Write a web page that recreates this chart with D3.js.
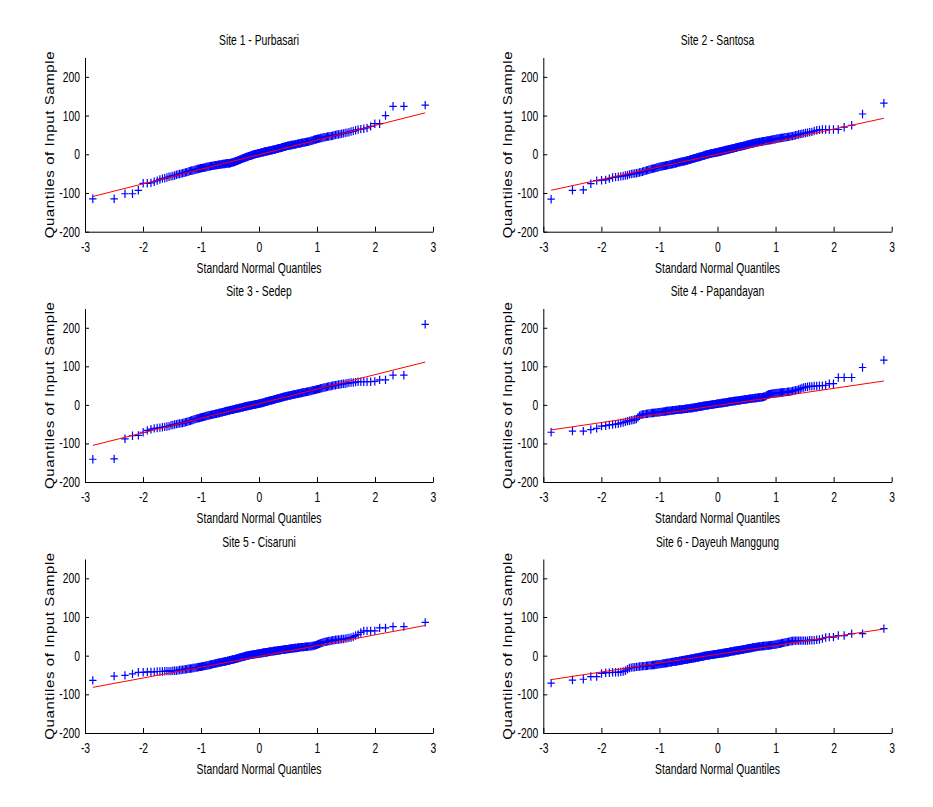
<!DOCTYPE html>
<html><head><meta charset="utf-8">
<script src="https://cdn.jsdelivr.net/npm/d3@7"></script>
<style>body{margin:0;background:#fff} text{font-family:"Liberation Sans",Arial,sans-serif;fill:#000}</style>
</head><body><svg id="c" width="933" height="807"></svg>
<script>
const titles=["Site 1 - Purbasari","Site 2 - Santosa","Site 3 - Sedep","Site 4 - Papandayan","Site 5 - Cisaruni","Site 6 - Dayeuh Manggung"];
const xTicks=[-3,-2,-1,0,1,2,3];
const yTicks=[-200,-100,0,100,200];
const xDomain=[-3,3];
const yDomain=[-200,250];
const xLabel="Standard Normal Quantiles";
const yLabel="Quantiles of Input Sample";
// sorted sample values
const site1=[-115,-115,-102,-102,-93,-75,-75,-74,-71,-68,
-65,-63,-62,-60,-58,-57,-56,-55,-53,-52,
-51,-50,-49,-48,-47,-46,-45,-44,-43,-42,
-42,-41,-40,-39,-38,-38,-37,-36,-36,-35,
-35,-34,-34,-33,-33,-32,-32,-31,-31,-30,
-30,-30,-29,-29,-28,-28,-28,-27,-27,-27,
-26,-26,-26,-25,-25,-25,-25,-24,-24,-24,
-24,-23,-23,-23,-23,-22,-22,-21,-21,-20,
-20,-19,-18,-18,-17,-16,-16,-15,-14,-14,
-13,-12,-12,-11,-10,-10,-9,-8,-8,-7,
-7,-6,-5,-5,-4,-4,-3,-3,-2,-2,
-1,-1,0,0,1,1,1,2,2,3,
3,3,4,4,5,5,5,6,6,7,
7,7,8,8,8,9,9,9,10,10,
10,11,11,12,12,12,13,13,14,14,
15,15,16,16,16,17,17,18,18,19,
19,20,20,21,21,22,22,22,23,23,
24,24,24,25,25,25,26,26,27,27,
28,28,28,29,29,30,30,30,31,31,
32,32,33,33,34,35,35,36,37,38,
38,39,40,40,41,42,42,43,44,44,
45,46,46,47,47,48,49,50,51,51,
52,53,54,55,56,57,59,60,62,64,
65,66,68,72,79,79,100,124,124,127];
const site2=[-116,-93,-92,-76,-68,-67,-66,-63,-60,-59,
-58,-57,-56,-55,-54,-52,-51,-50,-50,-49,
-48,-47,-46,-45,-44,-43,-42,-41,-40,-39,
-38,-37,-37,-36,-35,-34,-34,-33,-32,-32,
-31,-31,-30,-30,-29,-29,-28,-28,-27,-27,
-26,-26,-25,-25,-24,-24,-23,-23,-22,-22,
-21,-21,-20,-20,-19,-19,-19,-18,-18,-17,
-17,-16,-16,-15,-15,-14,-14,-13,-13,-12,
-12,-11,-11,-10,-10,-9,-9,-8,-8,-7,
-7,-6,-6,-5,-5,-4,-4,-3,-3,-2,
-2,-1,-1,0,0,0,1,1,2,2,
2,3,3,3,4,4,4,5,5,5,
6,6,6,7,7,7,8,8,9,9,
9,10,10,11,11,11,12,12,13,13,
13,14,14,15,15,15,16,16,17,17,
17,18,18,19,19,19,20,20,21,21,
21,22,22,23,23,24,24,25,25,26,
26,27,27,28,28,28,29,29,30,30,
30,31,31,32,32,32,33,33,34,34,
34,35,35,36,36,36,37,37,38,38,
39,39,40,40,41,41,42,42,43,43,
44,44,45,45,46,47,47,48,49,50,
51,52,53,54,55,56,57,58,60,62,
63,64,64,64,64,64,70,75,104,132];
const site3=[-141,-140,-88,-80,-79,-71,-66,-63,-61,-60,
-59,-58,-57,-56,-55,-53,-52,-51,-50,-49,
-48,-48,-47,-46,-45,-44,-43,-42,-41,-40,
-39,-38,-37,-36,-35,-35,-34,-33,-32,-32,
-31,-30,-30,-29,-28,-28,-27,-27,-26,-26,
-25,-25,-24,-24,-23,-23,-22,-22,-21,-21,
-20,-20,-19,-19,-18,-18,-17,-17,-16,-16,
-16,-15,-15,-14,-14,-13,-13,-13,-12,-12,
-11,-11,-10,-10,-10,-9,-9,-8,-8,-8,
-7,-7,-6,-6,-6,-5,-5,-4,-4,-4,
-3,-3,-3,-2,-2,-2,-1,-1,-1,0,
0,0,1,1,1,2,2,2,3,3,
3,4,4,5,5,5,6,6,7,7,
8,8,8,9,9,10,10,11,11,12,
12,12,13,13,14,14,15,15,16,16,
17,17,17,18,18,19,19,20,20,21,
21,21,22,22,23,23,24,24,24,25,
25,26,26,27,27,27,28,28,29,29,
29,30,30,31,31,32,32,32,33,33,
34,34,35,35,36,36,37,38,38,39,
39,40,41,41,42,43,43,44,45,45,
46,47,48,48,49,50,51,51,52,53,
53,54,55,55,56,57,58,58,59,60,
60,60,60,60,61,65,65,77,77,209];
const site4=[-71,-68,-68,-64,-61,-55,-54,-52,-51,-50,
-49,-47,-46,-44,-42,-41,-40,-39,-38,-37,
-32,-28,-26,-25,-24,-24,-23,-23,-22,-22,
-21,-21,-21,-20,-20,-20,-19,-19,-19,-18,
-18,-18,-17,-17,-17,-16,-16,-16,-16,-15,
-15,-15,-14,-14,-14,-14,-13,-13,-13,-13,
-12,-12,-12,-12,-12,-11,-11,-11,-11,-10,
-10,-10,-10,-9,-9,-9,-9,-8,-8,-8,
-8,-7,-7,-7,-6,-6,-6,-6,-5,-5,
-5,-4,-4,-4,-4,-3,-3,-3,-2,-2,
-2,-2,-1,-1,-1,-1,0,0,0,0,
1,1,1,1,2,2,2,2,3,3,
3,3,4,4,4,4,5,5,5,5,
6,6,6,6,7,7,7,7,8,8,
8,8,9,9,9,9,10,10,10,10,
11,11,11,11,12,12,12,12,13,13,
13,13,14,14,14,14,15,15,15,16,
16,16,16,17,17,17,17,18,18,18,
18,19,19,19,19,20,20,20,21,21,
22,23,25,26,27,28,28,29,29,29,
30,30,30,31,31,31,32,32,32,33,
33,33,34,34,34,35,36,37,38,39,
40,42,44,45,46,47,48,48,49,49,
50,50,51,55,55,71,71,71,97,116];
const site5=[-64,-53,-51,-47,-43,-43,-42,-42,-42,-41,
-41,-41,-40,-40,-40,-40,-39,-39,-39,-38,
-37,-37,-36,-36,-35,-35,-34,-34,-33,-33,
-32,-32,-31,-31,-30,-30,-29,-29,-28,-28,
-27,-27,-26,-26,-25,-25,-24,-24,-23,-23,
-22,-22,-21,-21,-20,-20,-19,-19,-18,-18,
-17,-17,-17,-16,-16,-15,-15,-15,-14,-14,
-13,-13,-13,-12,-12,-11,-11,-10,-10,-10,
-9,-9,-8,-8,-7,-7,-6,-6,-5,-5,
-4,-4,-3,-3,-3,-2,-2,-1,-1,0,
0,0,1,1,1,2,2,2,2,3,
3,3,4,4,4,4,5,5,5,5,
6,6,6,6,7,7,7,8,8,8,
8,9,9,9,9,10,10,10,10,11,
11,11,11,12,12,12,12,13,13,13,
13,14,14,14,14,15,15,15,15,16,
16,16,16,17,17,17,17,18,18,18,
18,19,19,19,19,20,20,20,20,21,
21,21,21,22,22,22,22,22,23,23,
23,23,24,24,24,24,25,25,26,26,
27,28,29,30,31,32,33,34,35,36,
36,37,38,38,39,40,40,41,41,42,
42,43,43,44,45,46,47,49,52,55,
60,64,64,64,64,72,72,75,75,86];
const site6=[-71,-63,-61,-54,-54,-46,-44,-44,-43,-43,
-43,-42,-41,-39,-35,-32,-31,-30,-30,-29,
-29,-28,-28,-27,-27,-27,-26,-26,-25,-25,
-25,-24,-24,-24,-23,-23,-23,-22,-22,-22,
-21,-21,-20,-20,-20,-19,-19,-18,-18,-18,
-17,-17,-16,-16,-16,-15,-15,-15,-14,-14,
-14,-13,-13,-13,-12,-12,-12,-11,-11,-11,
-10,-10,-10,-9,-9,-9,-8,-8,-8,-7,
-7,-7,-6,-6,-6,-5,-5,-5,-4,-4,
-4,-3,-3,-3,-2,-2,-2,-1,-1,-1,
0,0,0,0,1,1,1,1,2,2,
2,2,3,3,3,3,4,4,4,4,
5,5,5,5,6,6,6,6,7,7,
7,7,8,8,8,9,9,9,9,10,
10,10,11,11,11,11,12,12,12,13,
13,13,14,14,14,14,15,15,15,16,
16,16,17,17,17,18,18,18,19,19,
19,20,20,20,21,21,21,22,22,22,
23,23,23,24,24,24,24,25,25,25,
25,26,26,26,26,27,27,27,28,28,
28,29,29,30,30,31,31,32,33,33,
34,35,35,36,37,38,38,39,39,39,
39,39,39,39,39,39,40,40,40,41,
42,44,47,48,48,52,52,57,57,70];
const sites=[site1,site2,site3,site4,site5,site6];
// reference line values at the first and last theoretical quantile
const refStart=[-109,-93,-105,-65,-82,-62];
const refEnd=[107,93,111,62,78,69];

// inverse standard normal CDF (Acklam)
function probit(p){
  const a=[-3.969683028665376e+01,2.209460984245205e+02,-2.759285104469687e+02,1.383577518672690e+02,-3.066479806614716e+01,2.506628277459239e+00];
  const b=[-5.447609879822406e+01,1.615858368580409e+02,-1.556989798598866e+02,6.680131188771972e+01,-1.328068155288572e+01];
  const c=[-7.784894002430293e-03,-3.223964580411365e-01,-2.400758277161838e+00,-2.549732539343734e+00,4.374664141464968e+00,2.938163982698783e+00];
  const d=[7.784695709041462e-03,3.224671290700398e-01,2.445134137142996e+00,3.754408661907416e+00];
  const pl=0.02425,ph=1-pl;let q,r;
  if(p<pl){q=Math.sqrt(-2*Math.log(p));return (((((c[0]*q+c[1])*q+c[2])*q+c[3])*q+c[4])*q+c[5])/((((d[0]*q+d[1])*q+d[2])*q+d[3])*q+1);}
  if(p<=ph){q=p-0.5;r=q*q;return (((((a[0]*r+a[1])*r+a[2])*r+a[3])*r+a[4])*r+a[5])*q/(((((b[0]*r+b[1])*r+b[2])*r+b[3])*r+b[4])*r+1);}
  q=Math.sqrt(-2*Math.log(1-p));return -(((((c[0]*q+c[1])*q+c[2])*q+c[3])*q+c[4])*q+c[5])/((((d[0]*q+d[1])*q+d[2])*q+d[3])*q+1);
}

const svg=d3.select("#c");
svg.append("rect").attr("width",933).attr("height",807).attr("fill","#fff");
const colX=[[85,433],[543.3,891.7]];
const rowY=[[57.5,231.7],[308.5,482],[559,733]];
const SX=0.74, FS=14;

sites.forEach((vals,k)=>{
  const ci=k%2, ri=Math.floor(k/2);
  const x=d3.scaleLinear().domain(xDomain).range(colX[ci]);
  const y=d3.scaleLinear().domain(yDomain).range([rowY[ri][1],rowY[ri][0]]);
  const g=svg.append("g");
  const n=vals.length;
  const pts=vals.map((v,i)=>({q:probit((i+0.5)/n),v:v}));
  g.append("g").selectAll("path").data(pts).join("path")
    .attr("d",d=>`M${x(d.q)-3.7},${y(d.v)}h7.4M${x(d.q)},${y(d.v)-4.2}v8.4`)
    .attr("stroke","#0000ff").attr("stroke-width",1.2).attr("fill","none");
  g.append("line")
    .attr("x1",x(pts[0].q)).attr("y1",y(refStart[k]))
    .attr("x2",x(pts[n-1].q)).attr("y2",y(refEnd[k]))
    .attr("stroke","#ff0000").attr("stroke-width",1);
  const gx=g.append("g").attr("transform",`translate(0,${rowY[ri][1]})`)
    .call(d3.axisBottom(x).tickValues(xTicks).tickSizeInner(-5).tickSizeOuter(0).tickPadding(10).tickFormat(d=>String(d)));
  const gy=g.append("g").attr("transform",`translate(${colX[ci][0]},0)`)
    .call(d3.axisLeft(y).tickValues(yTicks).tickSizeInner(-4).tickSizeOuter(0).tickPadding(5).tickFormat(d=>String(d)));
  [gx,gy].forEach(a=>{a.attr("font-family",null).attr("font-size",FS);a.selectAll("path,line").attr("stroke","#000");});
  gx.selectAll("text").attr("transform",`scale(${SX},1)`);
  gy.selectAll("text").attr("x",0).attr("transform",`translate(-5,0) scale(${SX},1)`);
  const cx=(colX[ci][0]+colX[ci][1])/2;
  g.append("text").attr("transform",`translate(${cx},${rowY[ri][0]-17}) scale(${SX},1)`)
    .attr("text-anchor","middle").attr("dominant-baseline","central").attr("font-size",FS).text(titles[k]);
  g.append("text").attr("transform",`translate(${cx},${rowY[ri][1]+36.5}) scale(${SX},1)`)
    .attr("text-anchor","middle").attr("dominant-baseline","central").attr("font-size",FS).text(xLabel);
  const cy=(rowY[ri][0]+rowY[ri][1])/2;
  g.append("text").attr("transform",`translate(${colX[ci][0]-35},${cy}) rotate(-90) scale(1,0.8)`)
    .attr("text-anchor","middle").attr("dominant-baseline","central").attr("font-size",15).attr("letter-spacing",0.6).text(yLabel);
});
</script></body></html>
